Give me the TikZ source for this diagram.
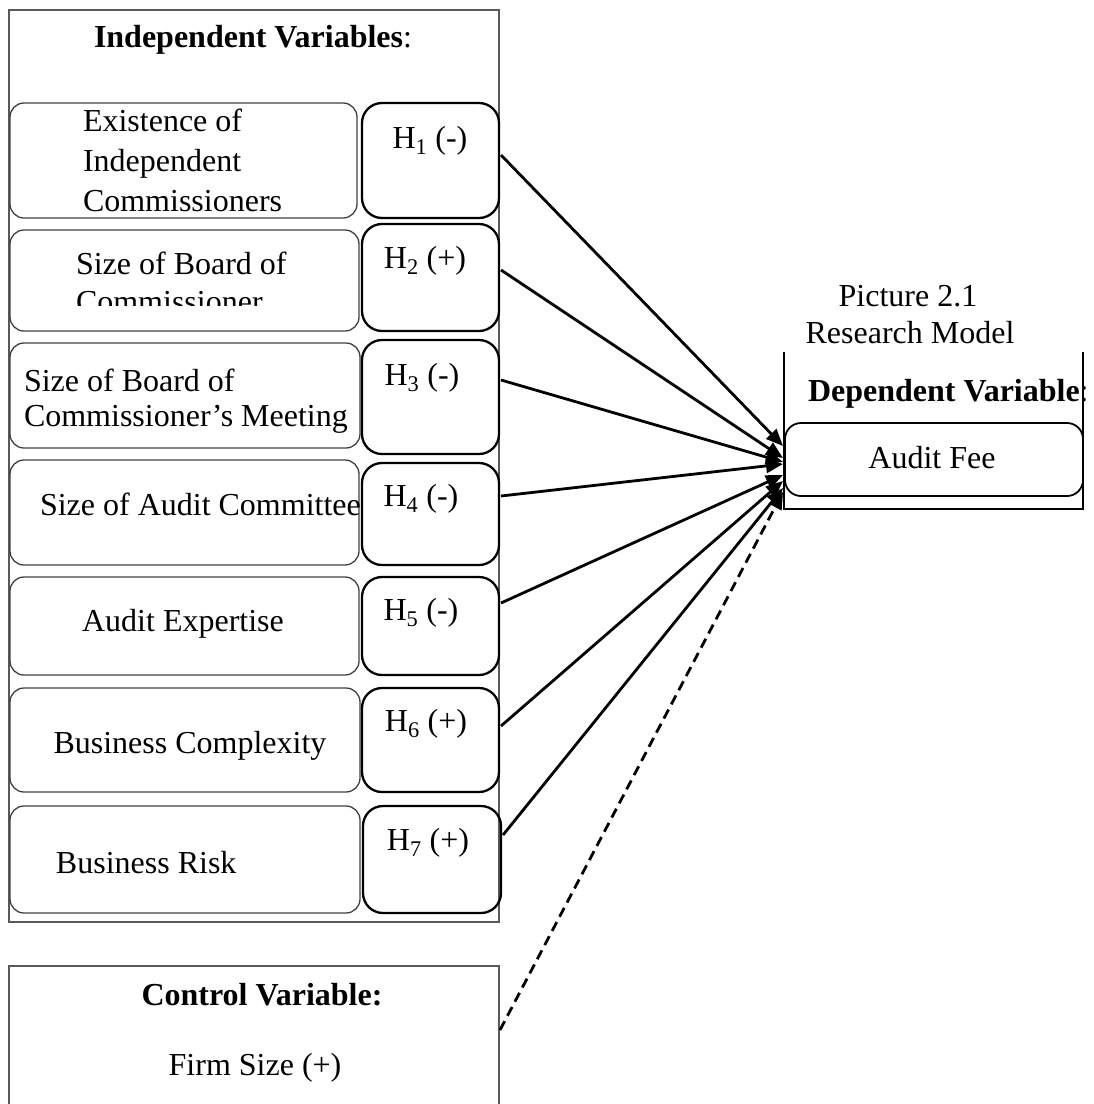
\documentclass[tikz,border=0pt]{standalone}
\usepackage{fontspec}
\setmainfont{Liberation Serif}
\usetikzlibrary{arrows.meta,calc}
\begin{document}
\begin{tikzpicture}[x=1pt,y=-1pt,
  outerbox/.style={draw=black!65, line width=1.2pt, inner sep=0pt, outer sep=0pt, anchor=north west},
  lbox/.style={draw=black!75, line width=1.3pt, rounded corners=14pt, inner sep=0pt, outer sep=0pt, anchor=north west},
  hbox/.style={draw=black, line width=2.3pt, rounded corners=20pt, inner sep=0pt, outer sep=0pt, anchor=north west},
  fbox/.style={draw=black, line width=1.8pt, rounded corners=16pt, inner sep=0pt, outer sep=0pt, anchor=north west},
  txt/.style={font=\fontsize{32}{40}\selectfont, inner sep=0pt, outer sep=0pt},
  arr/.style={line width=2.8pt, -{Triangle[length=17pt,width=14pt]}},
  darr/.style={arr, dash pattern=on 10pt off 6pt}
]
\useasboundingbox (0,0) rectangle (1094,1104);
\clip (0,0) rectangle (1094,1104);

% outer boxes
\node[outerbox, minimum width=490pt, minimum height=912pt] (indep) at (9,10) {};
\node[outerbox, minimum width=490pt, minimum height=200pt] (ctrl) at (9,966) {};

% titles
\node[txt] (tindep) at (253,40) {\textbf{Independent Variables}:};
\node[txt] (tctrl) at (262,995) {\textbf{Control Variable:}};
\node[txt] (tfirm) at (255,1068) {Firm Size (+)};

% variable boxes
\node[lbox, minimum width=347pt, minimum height=115pt] (v1) at (10,103) {};
\node[hbox, minimum width=137pt, minimum height=115pt] (h1) at (362,103) {};
\node[lbox, minimum width=349pt, minimum height=101pt] (v2) at (10,230) {};
\node[hbox, minimum width=137pt, minimum height=107pt] (h2) at (362,224) {};
\node[lbox, minimum width=350pt, minimum height=105pt] (v3) at (10,343) {};
\node[hbox, minimum width=137pt, minimum height=114pt] (h3) at (362,340) {};
\node[lbox, minimum width=349pt, minimum height=105pt] (v4) at (10,460) {};
\node[hbox, minimum width=137pt, minimum height=102pt] (h4) at (362,463) {};
\node[lbox, minimum width=349pt, minimum height=98pt] (v5) at (10,577) {};
\node[hbox, minimum width=137pt, minimum height=98pt] (h5) at (362,577) {};
\node[lbox, minimum width=350pt, minimum height=104pt] (v6) at (10,688) {};
\node[hbox, minimum width=137pt, minimum height=104pt] (h6) at (362,688) {};
\node[lbox, minimum width=350pt, minimum height=107pt] (v7) at (10,806) {};
\node[hbox, minimum width=138pt, minimum height=107pt] (h7) at (363,806) {};

% variable texts
\node[txt, anchor=west, align=left] (t1) at (83,160) {Existence of\\Independent\\Commissioners};
\begin{scope}
  \clip (10,230) rectangle (357,305);
  \node[txt, anchor=west, align=left, font=\fontsize{32}{38}\selectfont] (t2) at (76,282) {Size of Board of\\Commissioner};
\end{scope}
\node[txt, anchor=west, align=left, font=\fontsize{32}{35}\selectfont] (t3) at (24,401) {Size of Board of\\Commissioner’s Meeting};
\node[txt, anchor=west] (t4) at (40,504) {Size of Audit Committee};
\node[txt] (t5) at (183,624) {Audit Expertise};
\node[txt] (t6) at (190,746) {Business Complexity};
\node[txt, anchor=west] (t7) at (56,863) {Business Risk};

% hypothesis labels
\node[txt] (l1) at (430,141) {H\textsubscript{1} (-)};
\node[txt] (l2) at (425,261) {H\textsubscript{2} (+)};
\node[txt] (l3) at (422,378) {H\textsubscript{3} (-)};
\node[txt] (l4) at (421,499) {H\textsubscript{4} (-)};
\node[txt] (l5) at (421,613) {H\textsubscript{5} (-)};
\node[txt] (l6) at (426,724) {H\textsubscript{6} (+)};
\node[txt] (l7) at (428,843) {H\textsubscript{7} (+)};

% dependent side
\node[txt] (pic) at (908,296) {Picture 2.1};
\node[txt] (rm) at (910,333) {Research Model};
\draw[line width=2.3pt] (784,352) -- (784,509) -- (1083,509) -- (1083,352);
\node[txt, anchor=west] (tdep) at (808,394) {\textbf{Dependent Variable}:};
\node[fbox, minimum width=298pt, minimum height=73pt] (fee) at (785,423) {};
\node[txt] (tfee) at (932,458) {Audit Fee};

% connectors
\draw[arr] ([xshift=2pt,yshift=5.5pt]h1.east) -- ([xshift=-2pt,yshift=13.5pt]fee.west);
\draw[arr] ([xshift=2pt,yshift=7.5pt]h2.east) -- ([xshift=-2pt,yshift=1.5pt]fee.west);
\draw[arr] ([xshift=2pt,yshift=17pt]h3.east) -- ([xshift=-2pt,yshift=-2.5pt]fee.west);
\draw[arr] ([xshift=2pt,yshift=18pt]h4.east) -- ([xshift=-2pt,yshift=-4.5pt]fee.west);
\draw[arr] ([xshift=2pt,yshift=23pt]h5.east) -- ([xshift=-2pt,yshift=-15.5pt]fee.west);
\draw[arr] ([xshift=2pt,yshift=14pt]h6.east) -- ([xshift=-2pt,yshift=-21.5pt]fee.west);
\draw[arr] ([xshift=2pt,yshift=24.5pt]h7.east) -- ([xshift=-2pt,yshift=-28.5pt]fee.west);
\draw[darr] ([xshift=1pt,yshift=36pt]ctrl.east) -- ([xshift=-2pt,yshift=-32.5pt]fee.west);
\end{tikzpicture}
\end{document}
